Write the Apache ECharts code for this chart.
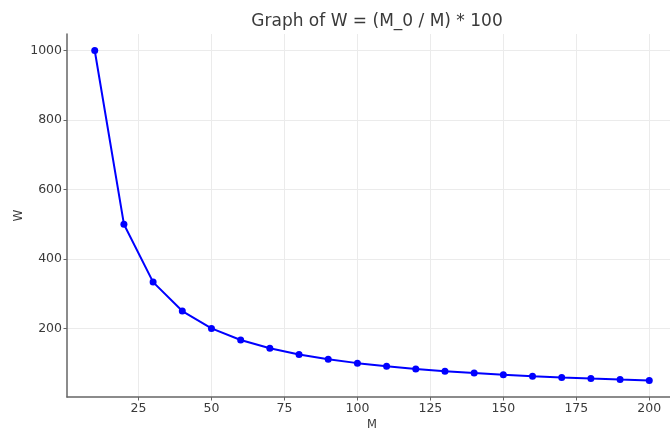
<!DOCTYPE html>
<html>
  <head>
    <meta charset="utf-8">
    <title>Graph of W</title>
    <style>
      html, body { margin: 0; padding: 0; background: #fff; }
      #main { width: 670px; height: 428px; }
    </style>
    <script src="https://cdn.jsdelivr.net/npm/echarts@6/dist/echarts.min.js"></script>
  </head>
  <body>
    <div id="main"></div>
    <script type="text/javascript">
      // data
      var mValues = [10, 20, 30, 40, 50, 60, 70, 80, 90, 100, 110, 120, 130, 140, 150, 160, 170, 180, 190, 200]
      var wValues = [1000, 500, 333.3, 250, 200, 166.7, 142.9, 125, 111.1, 100, 90.9, 83.3, 76.9, 71.4, 66.7, 62.5, 58.8, 55.6, 52.6, 50]
      var xTicks = [25, 50, 75, 100, 125, 150, 175, 200]
      var yTicks = [200, 400, 600, 800, 1000]

      var points = []
      for (var i = 0; i < mValues.length; i++) {
        points.push([mValues[i], wValues[i]])
      }

      var font = 'DejaVu Sans'
      var myChart = echarts.init(document.getElementById('main'))

      var option = {
        animation: false,
        title: {
          text: 'Graph of W = (M_0 / M) * 100',
          left: 372,
          textAlign: 'center',
          top: 8,
          textStyle: { fontFamily: font, fontSize: 17, fontWeight: 'normal', color: '#3a3a3a' }
        },
        grid: { left: 67, right: -7, top: 34, bottom: 31, outerBoundsMode: 'none', containLabel: false },
        xAxis: {
          type: 'value',
          min: 0.5,
          max: 209.5,
          name: 'M',
          nameLocation: 'middle',
          nameGap: 22,
          nameMoveOverlap: false,
          nameTextStyle: { fontFamily: font, fontSize: 11.5, color: '#3a3a3a' },
          axisLine: { show: true, lineStyle: { color: '#666', width: 1.5 } },
          axisTick: { show: true, length: 3.5, customValues: xTicks, lineStyle: { color: '#666' } },
          axisLabel: {
            customValues: xTicks, margin: 5, fontFamily: font, fontSize: 12.5, color: '#3a3a3a',
            formatter: function (v) { return String(v) }
          },
          splitLine: { show: true, lineStyle: { color: '#ebebeb', width: 1 } }
        },
        yAxis: {
          type: 'value',
          min: 2.5,
          max: 1047.5,
          name: 'W',
          nameLocation: 'middle',
          nameGap: 42,
          nameRotate: 90,
          nameMoveOverlap: false,
          nameTextStyle: { fontFamily: font, fontSize: 12, color: '#3a3a3a' },
          axisLine: { show: true, lineStyle: { color: '#666', width: 1.5 } },
          axisTick: { show: true, length: 3.5, customValues: yTicks, lineStyle: { color: '#666' } },
          axisLabel: {
            customValues: yTicks, margin: 5, fontFamily: font, fontSize: 12.5, color: '#3a3a3a',
            formatter: function (v) { return String(v) }
          },
          splitLine: { show: true, lineStyle: { color: '#ebebeb', width: 1 } }
        },
        series: [{
          type: 'line',
          data: points,
          symbol: 'circle',
          symbolSize: 7,
          lineStyle: { color: '#0000ff', width: 2 },
          itemStyle: { color: '#0000ff' }
        }]
      }

      myChart.setOption(option)
    </script>
  </body>
</html>
